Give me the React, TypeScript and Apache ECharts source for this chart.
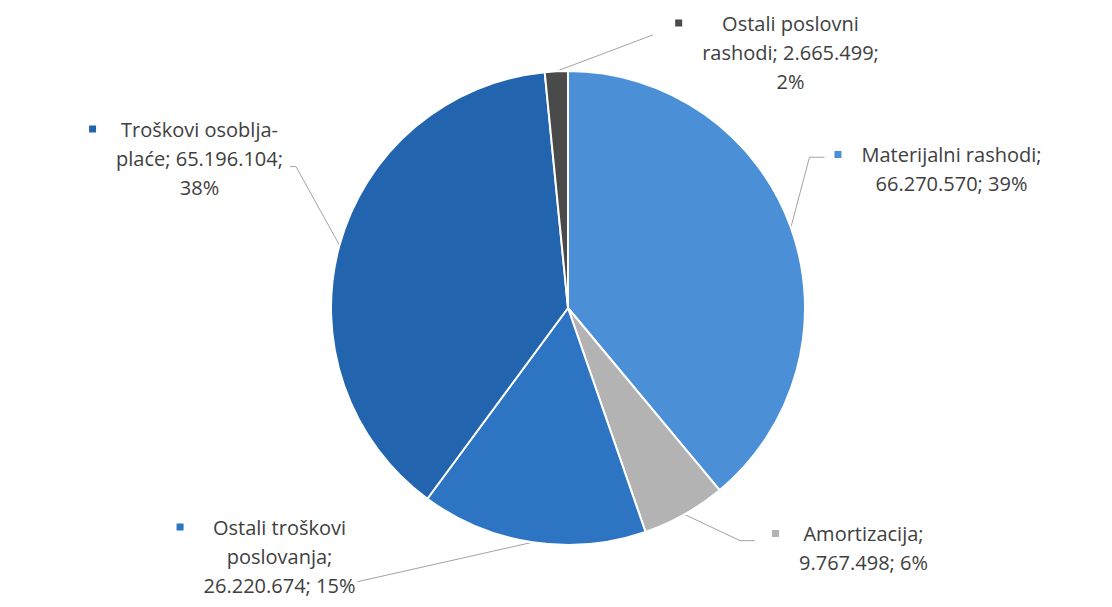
import React, { useEffect, useRef } from 'react';
import * as echarts from 'echarts';

const CATEGORIES = [
  'Materijalni rashodi',
  'Amortizacija',
  'Ostali troškovi poslovanja',
  'Troškovi osoblja-plaće',
  'Ostali poslovni rashodi',
];
const VALUES = [66270570, 9767498, 26220674, 65196104, 2665499];
const COLORS = ['#4b90d6', '#b3b3b3', '#2d74c3', '#2265ae', '#4a4a4a'];
// character positions where each label's text wraps
const LABEL_BREAKS = [[20], [13], [15, 27], [17, 35], [15, 35]];
// label block centres (layout)
const LABEL_POS = [
  [938, 169],
  [850, 548],
  [266, 556],
  [186, 158],
  [777, 52],
];
// label line end: side of label box, gap from box, vertical fraction in box, horizontal elbow length
const LINE_END: [string, number, number, number][] = [
  ['l', 10, 0.26, 15],
  ['l', 17, 0.35, 15],
  ['r', 2, 0.83, 0],
  ['r', 7, 0.61, 6],
  ['l', 22, 0.28, 0],
];

const fmt = (v: number) => String(v).replace(/\B(?=(\d{3})+(?!\d))/g, '.');

export default function App() {
  const ref = useRef<HTMLDivElement>(null);
  useEffect(() => {
    if (!ref.current) return;
    const chart = echarts.init(ref.current, undefined, { renderer: 'svg' });
    const total = VALUES.reduce((a, b) => a + b, 0);
    const rich: any = {
      t: { fontFamily: 'Open Sans', fontSize: 20, color: '#404040', lineHeight: 29, align: 'center' },
      gap: { width: 20, align: 'left' },
      sp: { width: 27, align: 'left' },
    };
    COLORS.forEach((c, i) => {
      rich['sq' + i] = { width: 7, height: 7, backgroundColor: c, align: 'left' };
    });
    chart.setOption({
      animation: false,
      backgroundColor: '#ffffff',
      series: [
        {
          type: 'pie',
          center: [568, 308],
          radius: 237,
          startAngle: 90,
          clockwise: true,
          avoidLabelOverlap: false,
          emphasis: { disabled: true },
          itemStyle: { borderColor: '#ffffff', borderWidth: 2 },
          data: CATEGORIES.map((name, i) => ({
            name,
            value: VALUES[i],
            itemStyle: { color: COLORS[i] },
          })),
          label: {
            show: true,
            position: 'outer',
            align: 'center',
            formatter: (p: any) => {
              const i = p.dataIndex;
              const pct = Math.round((VALUES[i] / total) * 100);
              const full = `${CATEGORIES[i]}; ${fmt(VALUES[i])}; ${pct}%`;
              const cuts = [0, ...LABEL_BREAKS[i], full.length];
              const lines = [];
              for (let k = 0; k < cuts.length - 1; k++) {
                lines.push(full.slice(cuts[k], cuts[k + 1]).trim());
              }
              return lines
                .map((l, k) => (k === 0 ? `{sq${i}|}{gap|}{t|${l}}` : `{sp|}{t|${l}}`))
                .join('\n');
            },
            rich,
          },
          labelLine: {
            show: true,
            length: 10,
            length2: 10,
            lineStyle: { color: '#a3a3a3', width: 1 },
          },
          labelLayout: (p: any) => {
            const i = p.dataIndex;
            const [x, y] = LABEL_POS[i];
            const w = p.labelRect.width;
            const h = p.labelRect.height;
            const left = x - w / 2;
            const right = x + w / 2;
            const top = y - h / 2;
            const [side, gap, frac, elbow] = LINE_END[i];
            const ey = top + frac * h;
            const ex = side === 'l' ? left - gap : right + gap;
            const bx = side === 'l' ? ex - elbow : ex + elbow;
            const start = p.labelLinePoints ? p.labelLinePoints[0] : [x, y];
            const mid = elbow > 0 ? [bx, ey] : [(start[0] + ex) / 2, (start[1] + ey) / 2];
            return {
              x,
              y,
              align: 'center',
              verticalAlign: 'middle',
              labelLinePoints: [start, mid, [ex, ey]],
            };
          },
        },
      ],
    });
    return () => chart.dispose();
  }, []);
  return (
    <div
      ref={ref}
      style={{ position: 'fixed', left: 0, top: 0, width: 1112, height: 607, background: '#fff' }}
    />
  );
}
